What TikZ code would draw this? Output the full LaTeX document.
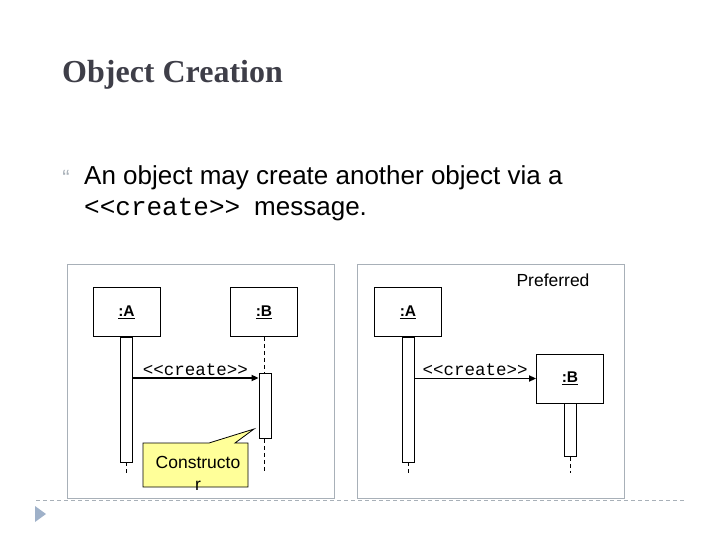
\documentclass[tikz,border=0pt]{standalone}
\usepackage{fontspec}
\setmainfont{Liberation Sans}
\setmonofont{Liberation Mono}
\newfontfamily\headfont{Liberation Serif}
\usetikzlibrary{arrows.meta, shapes.callouts, calc}
\definecolor{titlegray}{HTML}{3E3E48}
\definecolor{framegray}{HTML}{A8B0B8}
\definecolor{notefill}{HTML}{FFFF99}
\definecolor{markblue}{HTML}{9FB1C9}

\begin{document}
\begin{tikzpicture}[
    x=1pt, y=-1pt,
    panel/.style={draw=framegray, line width=0.8pt, minimum width=267pt, minimum height=234pt, inner sep=0pt},
    obj/.style={draw, line width=0.8pt, fill=white, minimum width=67pt, minimum height=49pt,
                inner sep=0pt, font=\bfseries\fontsize{15.5}{18}\selectfont},
    act/.style={draw, line width=0.8pt, fill=white, minimum width=12pt, inner sep=0pt, anchor=north},
    lifeline/.style={dash pattern=on 4pt off 3pt, line width=0.8pt},
    msg/.style={-{Triangle[length=7pt, width=6pt]}, line width=1.6pt},
    msglabel/.style={font=\ttfamily\fontsize{17.5}{20}\selectfont, inner sep=1pt, above=1pt},
    note/.style={rectangle callout, draw, line width=0.8pt, fill=notefill,
                 minimum width=105pt, minimum height=44pt, callout pointer width=26pt},
]
\useasboundingbox (0,0) rectangle (720,540);

% title and text
\node[anchor=base west, inner sep=0pt, text=titlegray,
      font=\headfont\bfseries\fontsize{32}{36}\selectfont] (title) at (62,83) {Object Creation};
\node[anchor=north, inner sep=0pt, text=framegray, font=\fontsize{22}{22}\selectfont] (bullet) at (66,170) {“};
\node[anchor=base west, inner sep=0pt, font=\fontsize{26}{30}\selectfont] (line1) at (84,185)
    {An object may create another object via a};
\node[anchor=base west, inner sep=0pt, font=\fontsize{26}{30}\selectfont] (line2) at (84,215)
    {\texttt{<<create>>}\hspace{14pt}message.};

% frames
\node[panel] (leftpanel) at (200.5,381) {};
\node[panel] (rightpanel) at (490.5,381) {};
\node[font=\fontsize{17.5}{20}\selectfont, inner sep=0pt] (pref) at (553,280) {Preferred};

% left: B is there from the start
\node[obj] (objA1) at (126.5,312) {\underline{:A}};
\node[obj] (objB1) at (264,312) {\underline{:B}};
\node[act, minimum height=125pt] (actA1) at (126,336.5) {};
\node[act, minimum height=65pt] (actB1) at (265,373) {};
\coordinate (endA1) at (126,473);
\coordinate (endB1) at (264,473);
\draw[lifeline] (actA1.south) -- (endA1);
\draw[lifeline] (objB1.south) -- (objB1.south |- actB1.north);
\draw[lifeline] (objB1.south |- actB1.south) -- (endB1);
\draw[msg] ($(actA1.east |- actB1.north)+(0,5)$) -- ($(actB1.north west)+(0,5)$)
    node[midway, msglabel] {<<create>>};

\node[note, callout absolute pointer={(254,429)}] (note) at (195.5,465) {};
\node[font=\fontsize{17.5}{22}\selectfont, align=center, inner sep=0pt] (notetext) at (198,473)
    {Constructo\\r};

% right: B is made by the message
\node[obj] (objA2) at (408,312) {\underline{:A}};
\node[act, minimum height=125pt] (actA2) at (408,336.5) {};
\node[obj] (objB2) at (570,378.5) {\underline{:B}};
\node[act, minimum height=53pt] (actB2) at (570,403) {};
\coordinate (endA2) at (408,473);
\coordinate (endB2) at (570,473);
\draw[lifeline] (actA2.south) -- (endA2);
\draw[lifeline] (actB2.south) -- (endB2);
\draw[msg] (actA2.east |- objB2.west) -- (objB2.west)
    node[midway, msglabel] {<<create>>};

% slide footer
\coordinate (sepL) at (36,500);
\coordinate (sepR) at (686,500);
\draw[framegray, lifeline] (sepL) -- (sepR);
\fill[markblue] (35,506) -- (46,514) -- (35,522) -- cycle;

\end{tikzpicture}
\end{document}
